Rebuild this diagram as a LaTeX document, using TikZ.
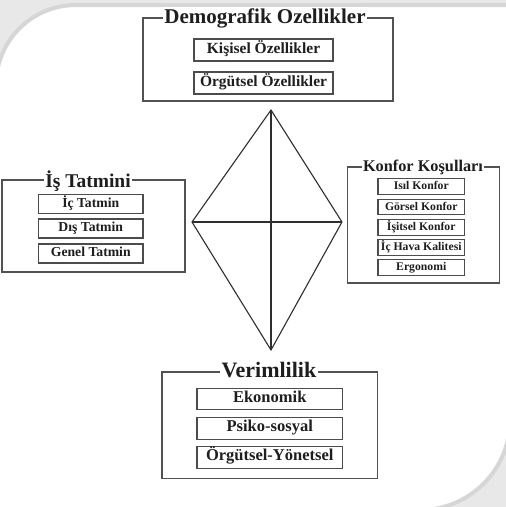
\documentclass[tikz,border=0pt]{standalone}
\usepackage{fontspec}
\setmainfont{Liberation Serif}
\definecolor{bggray}{HTML}{E8E8E8}
\definecolor{bordergray}{HTML}{D6D6D6}
\definecolor{inkc}{HTML}{1E1E1E}
\begin{document}
\begin{tikzpicture}[x=1pt,y=-1pt,
  outer/.style={draw=black!68, line width=1.1pt, inner sep=0pt},
  title/.style={fill=white, inner sep=1.5pt, anchor=base, text=inkc,
    font=\bfseries\fontsize{#1}{#1}\selectfont},
  item/.style={draw=black!70, line width=1.3pt, inner sep=0pt,
    text height=0.66em, text depth=0pt, text=inkc,
    font=\bfseries\fontsize{#1}{#1}\selectfont},
  dline/.style={draw=black!82, line width=1.1pt}]
\useasboundingbox (0,0) rectangle (506,507);
\fill[bggray] (0,0) rectangle (506,507);
\filldraw[fill=white, draw=bordergray, line width=4pt]
  (-4,520) -- (-4,85) arc[start angle=180, end angle=270, radius=80]
  -- (510,5) -- (510,420) arc[start angle=0, end angle=90, radius=90]
  -- (-4,510) -- cycle;

% outer group boxes
\node[outer, minimum width=250pt, minimum height=83pt] (demo) at (268,59.5) {};
\node[outer, minimum width=183pt, minimum height=92pt] (is) at (93.5,226) {};
\node[outer, minimum width=152pt, minimum height=116pt] (konfor) at (423.5,225) {};
\node[outer, minimum width=215.5pt, minimum height=106.5pt] (verim) at (269.75,425.25) {};

% titles
\node[title=21] (demoT) at (265,23) {Demografik Ozellikler};
\node[title=19.5] (isT) at (88,187) {İş Tatmini};
\node[title=16.3] (konforT) at (423,171) {Konfor Koşulları};
\node[title=22] (verimT) at (269,377) {Verimlilik};

% Demografik items
\node[item=15.5, minimum width=139pt, minimum height=22pt] (d1) at (263.5,50) {Kişisel Özellikler};
\node[item=15.5, minimum width=139pt, minimum height=22pt] (d2) at (263.5,83) {Örgütsel Özellikler};

% İş Tatmini items
\node[item=13.7, minimum width=104.5pt, minimum height=19pt] (i1) at (90.75,204) {İç Tatmin};
\node[item=13.7, minimum width=104.5pt, minimum height=19pt] (i2) at (90.75,228.5) {Dış Tatmin};
\node[item=13.7, minimum width=104.5pt, minimum height=19pt] (i3) at (90.75,253.5) {Genel Tatmin};

% Konfor items
\node[item=11.7, minimum width=86.5pt, minimum height=15.5pt] (k1) at (421.25,186.5) {Isıl Konfor};
\node[item=11.7, minimum width=86.5pt, minimum height=15.5pt] (k2) at (421.25,207) {Görsel Konfor};
\node[item=11.7, minimum width=86.5pt, minimum height=15.5pt] (k3) at (421.25,227.5) {İşitsel Konfor};
\node[item=11.7, minimum width=86.5pt, minimum height=15.5pt] (k4) at (421.25,247.5) {İç Hava Kalitesi};
\node[item=11.7, minimum width=86.5pt, minimum height=15.5pt] (k5) at (421.25,267.5) {Ergonomi};

% Verimlilik items
\node[item=16.5, minimum width=145.5pt, minimum height=21.5pt] (v1) at (269.75,399) {Ekonomik};
\node[item=16.5, minimum width=145.5pt, minimum height=21.5pt] (v2) at (269.75,428.5) {Psiko-sosyal};
\node[item=16.5, minimum width=145.5pt, minimum height=21.5pt] (v3) at (269.75,457.5) {Örgütsel-Yönetsel};

% diamond
\coordinate (T) at (271,110);
\coordinate (B) at (271,350);
\coordinate (L) at (192,222);
\coordinate (R) at (342,222);
\draw[dline, line join=miter] (T) -- (R) -- (B) -- (L) -- cycle;
\draw[dline] (T) -- (B);
\draw[dline] (L) -- (R);
\end{tikzpicture}
\end{document}
